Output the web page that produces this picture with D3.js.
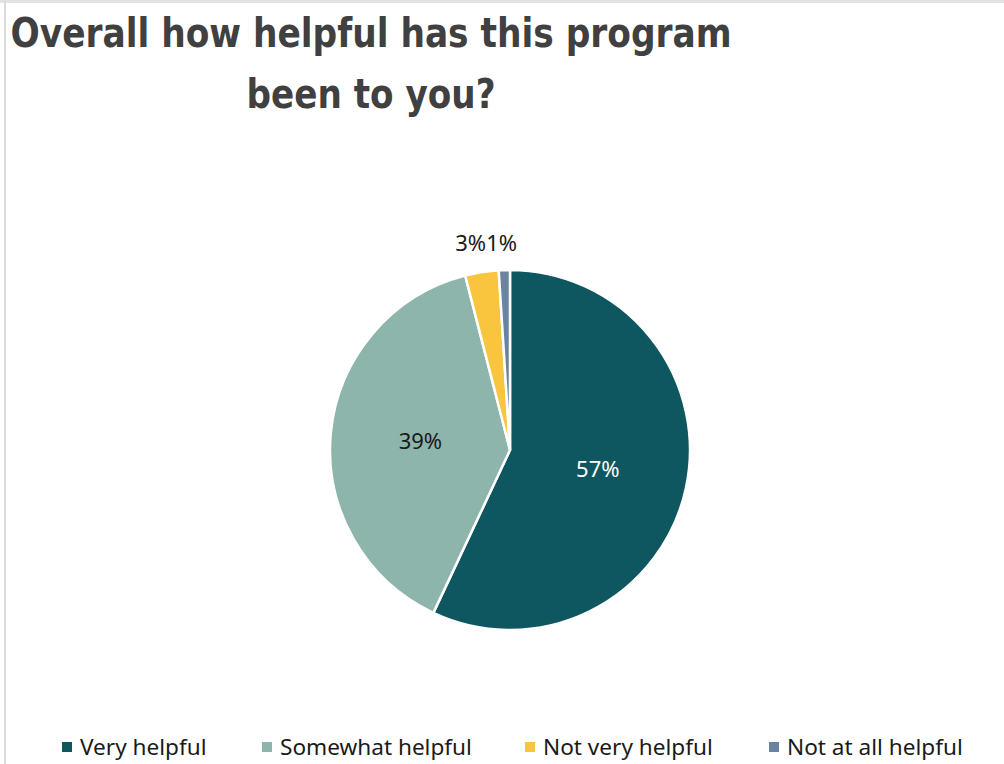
<!DOCTYPE html>
<html>
<head>
<meta charset="utf-8">
<script src="https://cdn.jsdelivr.net/npm/d3@7"></script>
<style>
  html, body { margin: 0; padding: 0; background: #fff; }
  svg { display: block; }
</style>
</head>
<body>
<svg id="chart" width="1004" height="764"></svg>
<script>
const categories = ["Very helpful", "Somewhat helpful", "Not very helpful", "Not at all helpful"];
const values = [57, 39, 3, 1];
const colors = ["#0E5760", "#8DB5AB", "#F9C53E", "#6A83A0"];
const titleLines = ["Overall how helpful has this program", "been to you?"];

const W = 1004, H = 764;
const svg = d3.select("#chart");

// frame lines
svg.append("rect").attr("x", 0).attr("y", 0).attr("width", W).attr("height", 3).attr("fill", "#e3e3e3");
svg.append("rect").attr("x", 4).attr("y", 0).attr("width", 2).attr("height", H).attr("fill", "#dcdcdc");

// title
const titleFont = "'Liberation Sans Narrow', 'Arial Narrow', 'DejaVu Sans Condensed', sans-serif";
const tl = svg.append("g").attr("fill", "#404040")
  .attr("font-family", titleFont).attr("font-weight", "bold").attr("font-size", 41);
const titleY = [47, 108];
const titleW = [721, 249];
titleLines.forEach((t, i) => {
  tl.append("text").attr("x", 371).attr("y", titleY[i]).attr("text-anchor", "middle")
    .attr("textLength", titleW[i]).attr("lengthAdjust", "spacingAndGlyphs").text(t);
});

// pie
const cx = 510, cy = 450, r = 180;
const pie = d3.pie().sort(null).value(d => d)(values);
const arc = d3.arc().innerRadius(0).outerRadius(r);
const g = svg.append("g").attr("transform", `translate(${cx},${cy})`);
g.selectAll("path").data(pie).join("path")
  .attr("d", arc)
  .attr("fill", (d, i) => colors[i])
  .attr("stroke", "#fff").attr("stroke-width", 2.5).attr("stroke-linejoin", "round");

const labelFont = "'Noto Sans', 'Open Sans', sans-serif";
const fs = 22;
// inside labels
pie.forEach((d, i) => {
  const pct = values[i] + "%";
  if (values[i] >= 10) {
    const a = (d.startAngle + d.endAngle) / 2;
    const rr = r * 0.5;
    g.append("text")
      .attr("x", Math.sin(a) * rr).attr("y", -Math.cos(a) * rr)
      .attr("text-anchor", "middle").attr("dy", "0.35em")
      .attr("font-family", labelFont).attr("font-size", fs)
      .attr("fill", i === 0 ? "#ffffff" : "#1a1a1a")
      .text(pct);
  }
});
// outside labels for small slices, arranged in a row above the pie
const small = pie.map((d, i) => ({d, i})).filter(o => values[o.i] < 10);
let rightEdge = 7;
const outY = -r - 19;
for (let k = small.length - 1; k >= 0; k--) {
  const o = small[k];
  const t = g.append("text")
    .attr("x", rightEdge).attr("y", outY)
    .attr("text-anchor", "end")
    .attr("font-family", labelFont).attr("font-size", fs)
    .attr("fill", "#1a1a1a")
    .text(values[o.i] + "%");
  rightEdge -= t.node().getComputedTextLength();
}

// legend
const legendX = [62, 262, 525, 769];
const lg = svg.append("g");
categories.forEach((c, i) => {
  lg.append("rect").attr("x", legendX[i]).attr("y", 742).attr("width", 10).attr("height", 10).attr("fill", colors[i]);
  lg.append("text").attr("x", legendX[i] + 18).attr("y", 755)
    .attr("font-family", labelFont).attr("font-size", 22.6).attr("fill", "#1a1a1a")
    .text(c);
});
</script>
</body>
</html>
